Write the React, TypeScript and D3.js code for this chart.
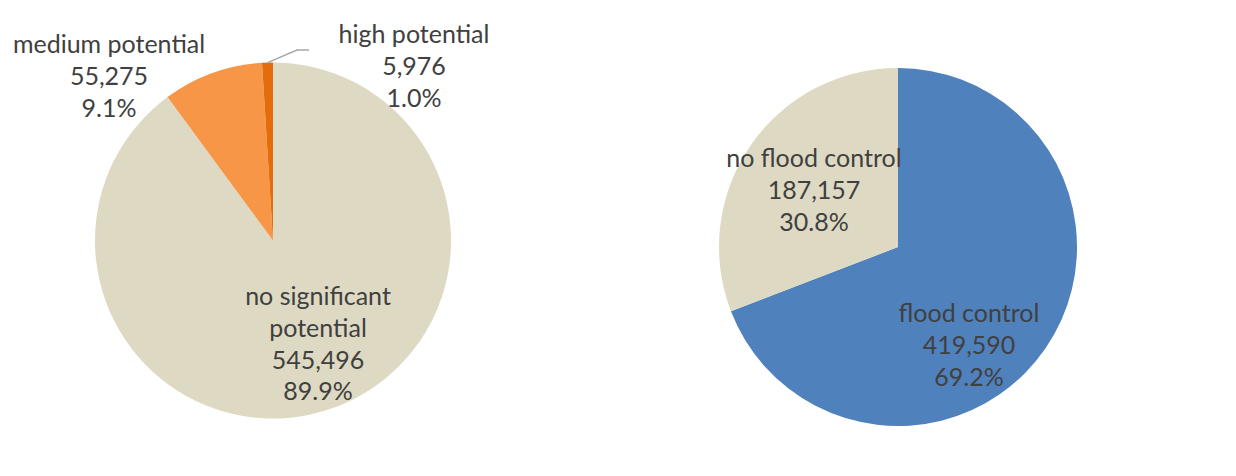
import React from "react";
import * as d3 from "d3";

const leftCategories = ["no significant potential", "medium potential", "high potential"];
const leftValues = [545496, 55275, 5976];
const leftColors = ["#DDD9C3", "#F79646", "#E46C0A"];

const rightCategories = ["flood control", "no flood control"];
const rightValues = [419590, 187157];
const rightColors = ["#4F81BD", "#DDD9C3"];

// label layout: x offset of label centre and first-line baseline offset from pie centre
const leftLabelLayout = [
  { dx: 318 - 273, by: 305 - 240.5, lines: ["no significant", "potential"] },
  { dx: 109 - 273, by: 53 - 240.5, lines: ["medium potential"] },
  { dx: 414 - 273, by: 43 - 240.5, lines: ["high potential"] },
];
const rightLabelLayout = [
  { dx: 969 - 898, by: 322 - 247, lines: ["flood control"] },
  { dx: 814 - 898, by: 167 - 247, lines: ["no flood control"] },
];

const fmt = d3.format(",");
const pctFmt = d3.format(".1%");

function Pie({ cx, cy, r, values, colors, layout, leader }: any) {
  const total = d3.sum(values);
  const pie = d3.pie<number>().sort(null).value((d) => d);
  const arcs = pie(values);
  const arc = d3.arc<any>().innerRadius(0).outerRadius(r);
  const lineH = 31.8;
  return (
    <g transform={`translate(${cx},${cy})`}>
      {arcs.map((a, i) => (
        <path key={i} d={arc(a) as string} fill={colors[i]} />
      ))}
      {leader && (() => {
        const a = arcs[leader.index];
        const mid = (a.startAngle + a.endAngle) / 2;
        const x0 = Math.sin(mid) * r;
        const y0 = -Math.cos(mid) * r;
        return (
          <polyline
            points={`${x0},${y0} ${leader.x1},${leader.y1} ${leader.x2},${leader.y1}`}
            fill="none"
            stroke="#A6A6A6"
            strokeWidth={1.5}
          />
        );
      })()}
      {arcs.map((a, i) => {
        const L = layout[i];
        const lines = [...L.lines, fmt(values[i]), pctFmt(values[i] / total)];
        return (
          <text
            key={"t" + i}
            textAnchor="middle"
            fill="#404040"
            fontFamily="Lato, 'Open Sans', sans-serif"
            fontSize={25}
          >
            {lines.map((s, j) => (
              <tspan key={j} x={L.dx} y={L.by + j * lineH}>
                {s}
              </tspan>
            ))}
          </text>
        );
      })}
    </g>
  );
}

export default function App() {
  return (
    <svg width={1236} height={476} style={{ position: "absolute", left: 0, top: 0, background: "#fff" }}>
      <Pie
        cx={273}
        cy={240.5}
        r={178}
        values={leftValues}
        colors={leftColors}
        layout={leftLabelLayout}
        leader={{ index: 2, x1: 24, y1: -190.5, x2: 36 }}
      />
      <Pie
        cx={898}
        cy={247}
        r={179}
        values={rightValues}
        colors={rightColors}
        layout={rightLabelLayout}
      />
    </svg>
  );
}
